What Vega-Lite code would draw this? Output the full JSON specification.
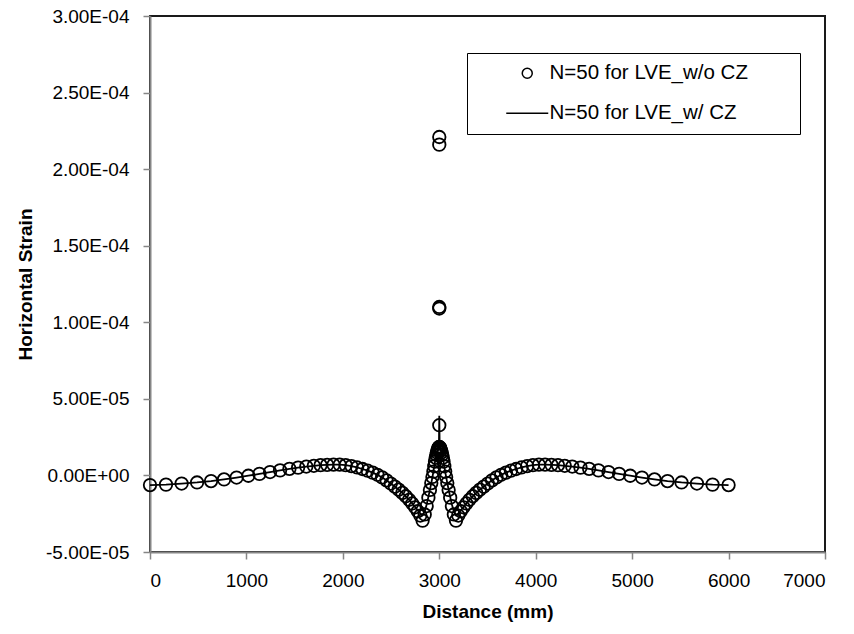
{
  "$schema": "https://vega.github.io/schema/vega-lite/v6.json",
  "width": 675,
  "height": 536,
  "autosize": {"type": "none"},
  "padding": {"left": 150, "top": 16, "right": 29, "bottom": 82},
  "background": "white",
  "config": {
    "font": "Liberation Sans",
    "view": {"stroke": "#1a1a1a", "strokeWidth": 2},
    "axis": {
      "grid": false,
      "domainColor": "#868686",
      "domainWidth": 2,
      "tickColor": "#868686",
      "tickWidth": 1.5,
      "tickSize": 7,
      "labelFont": "Liberation Sans",
      "labelFontSize": 19,
      "labelColor": "#000000",
      "titleFont": "Liberation Sans",
      "titleFontSize": 19,
      "titleFontWeight": "bold",
      "titleColor": "#000000"
    }
  },
  "datasets": {
    "wo": [
      {"x": 0, "y": -6.3e-6, "series": "N=50 for LVE_w/o CZ"},
      {"x": 166, "y": -6.0e-6, "series": "N=50 for LVE_w/o CZ"},
      {"x": 328, "y": -5.3e-6, "series": "N=50 for LVE_w/o CZ"},
      {"x": 488, "y": -4.6e-6, "series": "N=50 for LVE_w/o CZ"},
      {"x": 633, "y": -3.7e-6, "series": "N=50 for LVE_w/o CZ"},
      {"x": 768, "y": -2.6e-6, "series": "N=50 for LVE_w/o CZ"},
      {"x": 898, "y": -1.4e-6, "series": "N=50 for LVE_w/o CZ"},
      {"x": 1020, "y": -0.2e-6, "series": "N=50 for LVE_w/o CZ"},
      {"x": 1135, "y": 1.0e-6, "series": "N=50 for LVE_w/o CZ"},
      {"x": 1245, "y": 2.2e-6, "series": "N=50 for LVE_w/o CZ"},
      {"x": 1349, "y": 3.3e-6, "series": "N=50 for LVE_w/o CZ"},
      {"x": 1446, "y": 4.3e-6, "series": "N=50 for LVE_w/o CZ"},
      {"x": 1536, "y": 5.1e-6, "series": "N=50 for LVE_w/o CZ"},
      {"x": 1621, "y": 5.8e-6, "series": "N=50 for LVE_w/o CZ"},
      {"x": 1699, "y": 6.3e-6, "series": "N=50 for LVE_w/o CZ"},
      {"x": 1769, "y": 6.7e-6, "series": "N=50 for LVE_w/o CZ"},
      {"x": 1837, "y": 6.9e-6, "series": "N=50 for LVE_w/o CZ"},
      {"x": 1903, "y": 7.0e-6, "series": "N=50 for LVE_w/o CZ"},
      {"x": 1967, "y": 7.0e-6, "series": "N=50 for LVE_w/o CZ"},
      {"x": 2029, "y": 6.7e-6, "series": "N=50 for LVE_w/o CZ"},
      {"x": 2089, "y": 6.1e-6, "series": "N=50 for LVE_w/o CZ"},
      {"x": 2147, "y": 5.2e-6, "series": "N=50 for LVE_w/o CZ"},
      {"x": 2203, "y": 4.2e-6, "series": "N=50 for LVE_w/o CZ"},
      {"x": 2257, "y": 3.1e-6, "series": "N=50 for LVE_w/o CZ"},
      {"x": 2309, "y": 1.8e-6, "series": "N=50 for LVE_w/o CZ"},
      {"x": 2359, "y": 0.4e-6, "series": "N=50 for LVE_w/o CZ"},
      {"x": 2407, "y": -1.3e-6, "series": "N=50 for LVE_w/o CZ"},
      {"x": 2453, "y": -3.2e-6, "series": "N=50 for LVE_w/o CZ"},
      {"x": 2497, "y": -5.3e-6, "series": "N=50 for LVE_w/o CZ"},
      {"x": 2539, "y": -7.3e-6, "series": "N=50 for LVE_w/o CZ"},
      {"x": 2579, "y": -9.3e-6, "series": "N=50 for LVE_w/o CZ"},
      {"x": 2617, "y": -11.4e-6, "series": "N=50 for LVE_w/o CZ"},
      {"x": 2653, "y": -13.6e-6, "series": "N=50 for LVE_w/o CZ"},
      {"x": 2687, "y": -15.9e-6, "series": "N=50 for LVE_w/o CZ"},
      {"x": 2719, "y": -18.3e-6, "series": "N=50 for LVE_w/o CZ"},
      {"x": 2749, "y": -20.8e-6, "series": "N=50 for LVE_w/o CZ"},
      {"x": 2777, "y": -23.4e-6, "series": "N=50 for LVE_w/o CZ"},
      {"x": 2803, "y": -26.2e-6, "series": "N=50 for LVE_w/o CZ"},
      {"x": 2827, "y": -29.5e-6, "series": "N=50 for LVE_w/o CZ"},
      {"x": 2849, "y": -25.5e-6, "series": "N=50 for LVE_w/o CZ"},
      {"x": 2869, "y": -20.0e-6, "series": "N=50 for LVE_w/o CZ"},
      {"x": 2887, "y": -14.5e-6, "series": "N=50 for LVE_w/o CZ"},
      {"x": 2903, "y": -9.5e-6, "series": "N=50 for LVE_w/o CZ"},
      {"x": 2917, "y": -5.0e-6, "series": "N=50 for LVE_w/o CZ"},
      {"x": 2929, "y": -1.0e-6, "series": "N=50 for LVE_w/o CZ"},
      {"x": 2939, "y": 2.5e-6, "series": "N=50 for LVE_w/o CZ"},
      {"x": 2948, "y": 6.0e-6, "series": "N=50 for LVE_w/o CZ"},
      {"x": 2956, "y": 9.0e-6, "series": "N=50 for LVE_w/o CZ"},
      {"x": 2963, "y": 11.5e-6, "series": "N=50 for LVE_w/o CZ"},
      {"x": 2970, "y": 13.5e-6, "series": "N=50 for LVE_w/o CZ"},
      {"x": 2976, "y": 15.0e-6, "series": "N=50 for LVE_w/o CZ"},
      {"x": 2982, "y": 16.3e-6, "series": "N=50 for LVE_w/o CZ"},
      {"x": 2987, "y": 17.2e-6, "series": "N=50 for LVE_w/o CZ"},
      {"x": 2992, "y": 18.0e-6, "series": "N=50 for LVE_w/o CZ"},
      {"x": 2996, "y": 18.4e-6, "series": "N=50 for LVE_w/o CZ"},
      {"x": 3000, "y": 18.6e-6, "series": "N=50 for LVE_w/o CZ"},
      {"x": 3000, "y": 32.8e-6, "series": "N=50 for LVE_w/o CZ"},
      {"x": 3000, "y": 109e-6, "series": "N=50 for LVE_w/o CZ"},
      {"x": 3000, "y": 110e-6, "series": "N=50 for LVE_w/o CZ"},
      {"x": 3000, "y": 216e-6, "series": "N=50 for LVE_w/o CZ"},
      {"x": 3000, "y": 221e-6, "series": "N=50 for LVE_w/o CZ"},
      {"x": 3004, "y": 18.4e-6, "series": "N=50 for LVE_w/o CZ"},
      {"x": 3008, "y": 18.0e-6, "series": "N=50 for LVE_w/o CZ"},
      {"x": 3013, "y": 17.2e-6, "series": "N=50 for LVE_w/o CZ"},
      {"x": 3018, "y": 16.3e-6, "series": "N=50 for LVE_w/o CZ"},
      {"x": 3024, "y": 15.0e-6, "series": "N=50 for LVE_w/o CZ"},
      {"x": 3030, "y": 13.5e-6, "series": "N=50 for LVE_w/o CZ"},
      {"x": 3037, "y": 11.5e-6, "series": "N=50 for LVE_w/o CZ"},
      {"x": 3044, "y": 9.0e-6, "series": "N=50 for LVE_w/o CZ"},
      {"x": 3052, "y": 6.0e-6, "series": "N=50 for LVE_w/o CZ"},
      {"x": 3061, "y": 2.5e-6, "series": "N=50 for LVE_w/o CZ"},
      {"x": 3071, "y": -1.0e-6, "series": "N=50 for LVE_w/o CZ"},
      {"x": 3083, "y": -5.0e-6, "series": "N=50 for LVE_w/o CZ"},
      {"x": 3097, "y": -9.5e-6, "series": "N=50 for LVE_w/o CZ"},
      {"x": 3113, "y": -14.5e-6, "series": "N=50 for LVE_w/o CZ"},
      {"x": 3131, "y": -20.0e-6, "series": "N=50 for LVE_w/o CZ"},
      {"x": 3151, "y": -25.5e-6, "series": "N=50 for LVE_w/o CZ"},
      {"x": 3173, "y": -29.5e-6, "series": "N=50 for LVE_w/o CZ"},
      {"x": 3197, "y": -26.2e-6, "series": "N=50 for LVE_w/o CZ"},
      {"x": 3223, "y": -23.4e-6, "series": "N=50 for LVE_w/o CZ"},
      {"x": 3251, "y": -20.8e-6, "series": "N=50 for LVE_w/o CZ"},
      {"x": 3281, "y": -18.3e-6, "series": "N=50 for LVE_w/o CZ"},
      {"x": 3313, "y": -15.9e-6, "series": "N=50 for LVE_w/o CZ"},
      {"x": 3347, "y": -13.6e-6, "series": "N=50 for LVE_w/o CZ"},
      {"x": 3383, "y": -11.4e-6, "series": "N=50 for LVE_w/o CZ"},
      {"x": 3421, "y": -9.3e-6, "series": "N=50 for LVE_w/o CZ"},
      {"x": 3461, "y": -7.3e-6, "series": "N=50 for LVE_w/o CZ"},
      {"x": 3503, "y": -5.3e-6, "series": "N=50 for LVE_w/o CZ"},
      {"x": 3547, "y": -3.2e-6, "series": "N=50 for LVE_w/o CZ"},
      {"x": 3593, "y": -1.3e-6, "series": "N=50 for LVE_w/o CZ"},
      {"x": 3641, "y": 0.4e-6, "series": "N=50 for LVE_w/o CZ"},
      {"x": 3691, "y": 1.8e-6, "series": "N=50 for LVE_w/o CZ"},
      {"x": 3743, "y": 3.1e-6, "series": "N=50 for LVE_w/o CZ"},
      {"x": 3797, "y": 4.2e-6, "series": "N=50 for LVE_w/o CZ"},
      {"x": 3853, "y": 5.2e-6, "series": "N=50 for LVE_w/o CZ"},
      {"x": 3911, "y": 6.1e-6, "series": "N=50 for LVE_w/o CZ"},
      {"x": 3971, "y": 6.7e-6, "series": "N=50 for LVE_w/o CZ"},
      {"x": 4033, "y": 7.0e-6, "series": "N=50 for LVE_w/o CZ"},
      {"x": 4097, "y": 7.0e-6, "series": "N=50 for LVE_w/o CZ"},
      {"x": 4163, "y": 6.9e-6, "series": "N=50 for LVE_w/o CZ"},
      {"x": 4231, "y": 6.7e-6, "series": "N=50 for LVE_w/o CZ"},
      {"x": 4301, "y": 6.3e-6, "series": "N=50 for LVE_w/o CZ"},
      {"x": 4379, "y": 5.8e-6, "series": "N=50 for LVE_w/o CZ"},
      {"x": 4464, "y": 5.1e-6, "series": "N=50 for LVE_w/o CZ"},
      {"x": 4554, "y": 4.3e-6, "series": "N=50 for LVE_w/o CZ"},
      {"x": 4651, "y": 3.3e-6, "series": "N=50 for LVE_w/o CZ"},
      {"x": 4755, "y": 2.2e-6, "series": "N=50 for LVE_w/o CZ"},
      {"x": 4865, "y": 1.0e-6, "series": "N=50 for LVE_w/o CZ"},
      {"x": 4980, "y": -0.2e-6, "series": "N=50 for LVE_w/o CZ"},
      {"x": 5102, "y": -1.4e-6, "series": "N=50 for LVE_w/o CZ"},
      {"x": 5232, "y": -2.6e-6, "series": "N=50 for LVE_w/o CZ"},
      {"x": 5367, "y": -3.7e-6, "series": "N=50 for LVE_w/o CZ"},
      {"x": 5512, "y": -4.6e-6, "series": "N=50 for LVE_w/o CZ"},
      {"x": 5672, "y": -5.3e-6, "series": "N=50 for LVE_w/o CZ"},
      {"x": 5834, "y": -6.0e-6, "series": "N=50 for LVE_w/o CZ"},
      {"x": 6000, "y": -6.3e-6, "series": "N=50 for LVE_w/o CZ"}
    ],
    "w": [
      {"x": 0, "y": -6.3e-6},
      {"x": 166, "y": -6.0e-6},
      {"x": 328, "y": -5.3e-6},
      {"x": 488, "y": -4.6e-6},
      {"x": 633, "y": -3.7e-6},
      {"x": 768, "y": -2.6e-6},
      {"x": 898, "y": -1.4e-6},
      {"x": 1020, "y": -0.2e-6},
      {"x": 1135, "y": 1.0e-6},
      {"x": 1245, "y": 2.2e-6},
      {"x": 1349, "y": 3.3e-6},
      {"x": 1446, "y": 4.3e-6},
      {"x": 1536, "y": 5.1e-6},
      {"x": 1621, "y": 5.8e-6},
      {"x": 1699, "y": 6.3e-6},
      {"x": 1769, "y": 6.7e-6},
      {"x": 1837, "y": 6.9e-6},
      {"x": 1903, "y": 7.0e-6},
      {"x": 1967, "y": 7.0e-6},
      {"x": 2029, "y": 6.7e-6},
      {"x": 2089, "y": 6.1e-6},
      {"x": 2147, "y": 5.2e-6},
      {"x": 2203, "y": 4.2e-6},
      {"x": 2257, "y": 3.1e-6},
      {"x": 2309, "y": 1.8e-6},
      {"x": 2359, "y": 0.4e-6},
      {"x": 2407, "y": -1.3e-6},
      {"x": 2453, "y": -3.2e-6},
      {"x": 2497, "y": -5.3e-6},
      {"x": 2539, "y": -7.3e-6},
      {"x": 2579, "y": -9.3e-6},
      {"x": 2617, "y": -11.4e-6},
      {"x": 2653, "y": -13.6e-6},
      {"x": 2687, "y": -15.9e-6},
      {"x": 2719, "y": -18.3e-6},
      {"x": 2749, "y": -20.6e-6},
      {"x": 2777, "y": -22.8e-6},
      {"x": 2803, "y": -24.8e-6},
      {"x": 2827, "y": -26.0e-6},
      {"x": 2849, "y": -23.5e-6},
      {"x": 2869, "y": -19.0e-6},
      {"x": 2887, "y": -14.0e-6},
      {"x": 2903, "y": -9.3e-6},
      {"x": 2917, "y": -5.0e-6},
      {"x": 2929, "y": -1.0e-6},
      {"x": 2939, "y": 2.5e-6},
      {"x": 2948, "y": 6.0e-6},
      {"x": 2956, "y": 9.0e-6},
      {"x": 2963, "y": 11.5e-6},
      {"x": 2970, "y": 13.5e-6},
      {"x": 2976, "y": 15.0e-6},
      {"x": 2982, "y": 16.3e-6},
      {"x": 2987, "y": 17.2e-6},
      {"x": 2992, "y": 18.0e-6},
      {"x": 2996, "y": 18.4e-6},
      {"x": 3000, "y": 39.0e-6},
      {"x": 3004, "y": 18.4e-6},
      {"x": 3008, "y": 18.0e-6},
      {"x": 3013, "y": 17.2e-6},
      {"x": 3018, "y": 16.3e-6},
      {"x": 3024, "y": 15.0e-6},
      {"x": 3030, "y": 13.5e-6},
      {"x": 3037, "y": 11.5e-6},
      {"x": 3044, "y": 9.0e-6},
      {"x": 3052, "y": 6.0e-6},
      {"x": 3061, "y": 2.5e-6},
      {"x": 3071, "y": -1.0e-6},
      {"x": 3083, "y": -5.0e-6},
      {"x": 3097, "y": -9.3e-6},
      {"x": 3113, "y": -14.0e-6},
      {"x": 3131, "y": -19.0e-6},
      {"x": 3151, "y": -23.5e-6},
      {"x": 3173, "y": -26.0e-6},
      {"x": 3197, "y": -24.8e-6},
      {"x": 3223, "y": -22.8e-6},
      {"x": 3251, "y": -20.6e-6},
      {"x": 3281, "y": -18.3e-6},
      {"x": 3313, "y": -15.9e-6},
      {"x": 3347, "y": -13.6e-6},
      {"x": 3383, "y": -11.4e-6},
      {"x": 3421, "y": -9.3e-6},
      {"x": 3461, "y": -7.3e-6},
      {"x": 3503, "y": -5.3e-6},
      {"x": 3547, "y": -3.2e-6},
      {"x": 3593, "y": -1.3e-6},
      {"x": 3641, "y": 0.4e-6},
      {"x": 3691, "y": 1.8e-6},
      {"x": 3743, "y": 3.1e-6},
      {"x": 3797, "y": 4.2e-6},
      {"x": 3853, "y": 5.2e-6},
      {"x": 3911, "y": 6.1e-6},
      {"x": 3971, "y": 6.7e-6},
      {"x": 4033, "y": 7.0e-6},
      {"x": 4097, "y": 7.0e-6},
      {"x": 4163, "y": 6.9e-6},
      {"x": 4231, "y": 6.7e-6},
      {"x": 4301, "y": 6.3e-6},
      {"x": 4379, "y": 5.8e-6},
      {"x": 4464, "y": 5.1e-6},
      {"x": 4554, "y": 4.3e-6},
      {"x": 4651, "y": 3.3e-6},
      {"x": 4755, "y": 2.2e-6},
      {"x": 4865, "y": 1.0e-6},
      {"x": 4980, "y": -0.2e-6},
      {"x": 5102, "y": -1.4e-6},
      {"x": 5232, "y": -2.6e-6},
      {"x": 5367, "y": -3.7e-6},
      {"x": 5512, "y": -4.6e-6},
      {"x": 5672, "y": -5.3e-6},
      {"x": 5834, "y": -6.0e-6},
      {"x": 6000, "y": -6.3e-6}
    ]
  },
  "encoding": {
    "x": {
      "field": "x",
      "type": "quantitative",
      "scale": {"domain": [0, 7000], "nice": false},
      "axis": {
        "title": "Distance (mm)",
        "values": [0, 1000, 2000, 3000, 4000, 5000, 6000, 7000],
        "format": "d",
        "labelPadding": 12,
        "titlePadding": 12
      }
    },
    "y": {
      "field": "y",
      "type": "quantitative",
      "scale": {"domain": [-0.00005, 0.0003], "nice": false, "zero": false},
      "axis": {
        "title": "Horizontal Strain",
        "values": [-0.00005, 0, 0.00005, 0.0001, 0.00015, 0.0002, 0.00025, 0.0003],
        "labelExpr": "replace(replace(replace(format(datum.value, '.2e'), '\u2212', '-'), 'e-', 'E-0'), 'e+', 'E+0')",
        "labelPadding": 14,
        "titlePadding": 10
      }
    }
  },
  "layer": [
    {
      "data": {"name": "w"},
      "mark": {"type": "line", "color": "black", "strokeWidth": 1.8}
    },
    {
      "data": {"name": "wo"},
      "mark": {"type": "point", "filled": false, "color": "black", "size": 156, "strokeWidth": 1.8, "opacity": 1},
      "encoding": {
        "shape": {
          "field": "series",
          "type": "nominal",
          "scale": {
            "domain": ["N=50 for LVE_w/o CZ", "N=50 for LVE_w/ CZ"],
            "range": ["circle", "M-9,0M-4.2,0L4.2,0M51.8,0"]
          },
          "legend": {
            "orient": "none",
            "legendX": 317,
            "legendY": 37,
            "title": null,
            "strokeColor": "black",
            "fillColor": "white",
            "padding": 10,
            "labelFont": "Liberation Sans",
            "labelFontSize": 20.5,
            "labelColor": "black",
            "labelLimit": 400,
            "rowPadding": 19,
            "symbolSize": 100,
            "symbolStrokeColor": "black",
            "symbolStrokeWidth": 1.5,
            "symbolFillColor": "transparent",
            "symbolOffset": 40,
            "labelOffset": 12
          }
        }
      }
    }
  ]
}
